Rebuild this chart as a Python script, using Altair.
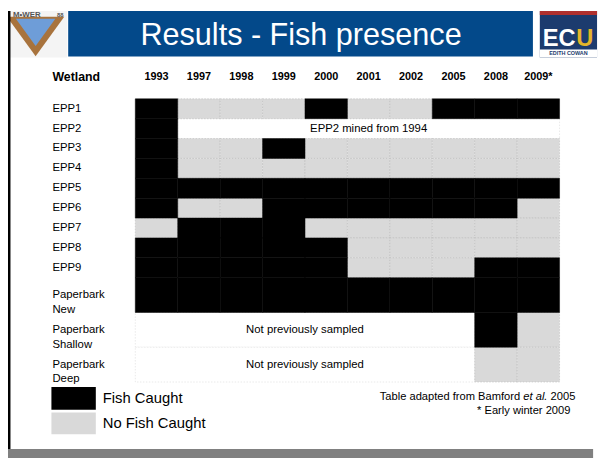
import altair as alt
import pandas as pd

FONT = "Liberation Sans"

# ---------------- data ----------------
years = ["1993", "1997", "1998", "1999", "2000", "2001", "2002", "2005", "2008", "2009*"]
wetlands = ["EPP1", "EPP2", "EPP3", "EPP4", "EPP5", "EPP6", "EPP7", "EPP8", "EPP9",
            "Paperbark\nNew", "Paperbark\nShallow", "Paperbark\nDeep"]
# F = fish caught, N = no fish caught, - = not sampled
presence = [
    "FNNNFNNFFF",
    "F---------",
    "FNNFNNNNNN",
    "FNNNNNNNNN",
    "FFFFFFFFFF",
    "FNNFFFFFFN",
    "NFFFNNNNNN",
    "FFFFFNNNNN",
    "FFFFFNNNFF",
    "FFFFFFFFFF",
    "--------FN",
    "--------NN",
]
gap_notes = ["", "EPP2 mined from 1994", "", "", "", "", "", "", "", "",
             "Not previously sampled", "Not previously sampled"]
status_labels = ["Fish Caught", "No Fish Caught"]
status_colors = ["#000000", "#d9d9d9"]
title_text = "Results - Fish presence"
row_header = "Wetland"
source_parts = ["Table adapted from Bamford", "et al.", " 2005"]
footnote = "* Early winter 2009"

# ---------------- tables ----------------
row_h = [1.75 if "\n" in w else 1.0 for w in wetlands]
y0s = []
acc = 0.0
for h in row_h:
    y0s.append(acc)
    acc += h
total = acc

rows = pd.DataFrame({"wetland": wetlands, "y0": y0s,
                     "y1": [a + h for a, h in zip(y0s, row_h)]})
rows["ymid"] = (rows["y0"] + rows["y1"]) / 2

cell_records = []
gap_records = []
for w, code, note, a, h in zip(wetlands, presence, gap_notes, y0s, row_h):
    for yr, c in zip(years, code):
        if c == "-":
            continue
        cell_records.append(dict(wetland=w, year=yr,
                                 status=status_labels[0] if c == "F" else status_labels[1],
                                 y0=a, y1=a + h))
    if "-" in code:
        f = code.index("-")
        l = code.rindex("-")
        gap_records.append(dict(wetland=w, note=note, first=years[f], last=years[l],
                                fi=f, li=l, y0=a, y1=a + h, ymid=a + h / 2))
cells = pd.DataFrame(cell_records)
gaps = pd.DataFrame(gap_records)
year_df = pd.DataFrame({"year": years})
one = pd.DataFrame({"k": [0]})

xs = alt.Scale(domain=years, paddingInner=0, paddingOuter=0)
ys = alt.Scale(domain=[0, total], reverse=True, nice=False, zero=False)
cs = alt.Scale(domain=status_labels, range=status_colors)

layers = []

# white "not sampled" blocks
layers.append(
    alt.Chart(gaps).mark_rect(fill="#ffffff", stroke="#dadada", strokeWidth=0.6,
                              strokeDash=[1.5, 1.5]).encode(
        x=alt.X("first:N", scale=xs, axis=None, bandPosition=0),
        x2=alt.X2("last:N", bandPosition=1),
        y=alt.Y("y0:Q", scale=ys, axis=None),
        y2="y1:Q",
    )
)

# grey cells
layers.append(
    alt.Chart(cells).transform_filter(alt.datum.status == status_labels[1]).mark_rect(
        stroke="#bdbdbd", strokeWidth=0.6, strokeDash=[1.5, 1.5]).encode(
        x=alt.X("year:N", scale=xs, axis=None),
        y=alt.Y("y0:Q", scale=ys, axis=None),
        y2="y1:Q",
        fill=alt.Fill("status:N", scale=cs, legend=None),
    )
)
# black cells
layers.append(
    alt.Chart(cells).transform_filter(alt.datum.status == status_labels[0]).mark_rect(
        stroke="#000000", strokeWidth=0.5).encode(
        x=alt.X("year:N", scale=xs, axis=None),
        y=alt.Y("y0:Q", scale=ys, axis=None),
        y2="y1:Q",
        fill=alt.Fill("status:N", scale=cs, legend=None),
    )
)

# notes in the white blocks
for rec in gap_records:
    mid = (rec["fi"] + rec["li"] + 1) / 2
    idx = int(mid)
    bp = mid - idx
    if idx >= len(years):
        idx, bp = len(years) - 1, 1.0
    layers.append(
        alt.Chart(pd.DataFrame({"year": [years[idx]], "ymid": [rec["ymid"]], "note": [rec["note"]]}))
        .mark_text(font=FONT, fontSize=11.5, color="#000000", baseline="middle")
        .encode(
            x=alt.X("year:N", scale=xs, axis=None, bandPosition=bp),
            y=alt.Y("ymid:Q", scale=ys, axis=None),
            text="note:N",
        )
    )

# year header
layers.append(
    alt.Chart(year_df).mark_text(font=FONT, fontSize=11, fontWeight="bold", color="#000000",
                                 baseline="middle").encode(
        x=alt.X("year:N", scale=xs, axis=None),
        y=alt.value(-22),
        text="year:N",
    )
)
# row labels
layers.append(
    alt.Chart(rows).mark_text(font=FONT, fontSize=11.5, align="left", baseline="middle",
                              lineBreak="\n", lineHeight=15, color="#000000").encode(
        x=alt.value(-84),
        y=alt.Y("ymid:Q", scale=ys, axis=None),
        text="wetland:N",
    )
)
layers.append(
    alt.Chart(one).mark_text(font=FONT, fontSize=12.5, fontWeight="bold", align="left",
                             baseline="middle", text=row_header, color="#000000").encode(
        x=alt.value(-84), y=alt.value(-22))
)

# ---------------- slide decoration ----------------
def box(x1, x2, y1, y2, color):
    return alt.Chart(one).mark_rect(color=color).encode(
        x=alt.value(x1), x2=alt.value(x2), y=alt.value(y1), y2=alt.value(y2))

def label(txt, x, y, size, color="#000000", align="center", weight="normal", style="normal",
          font=FONT, baseline="middle"):
    return alt.Chart(one).mark_text(text=txt, font=font, fontSize=size, color=color, align=align,
                                    fontWeight=weight, fontStyle=style, baseline=baseline).encode(
        x=alt.value(x), y=alt.value(y))

# header band
layers.append(box(-68, 403, -89, -43, "#03498a"))
layers.append(label(title_text, 168, -64, 31, color="#ffffff"))

# left logo (V shape)
layers.append(box(-132, -69, -89, -42, "#f4f4f4"))
layers.append(alt.Chart(one).mark_point(shape="M-1,-0.66L1,-0.66L0,0.72Z", size=3364, filled=True,
                                        opacity=1, color="#a8733d").encode(
    x=alt.value(-101), y=alt.value(-64)))
layers.append(alt.Chart(one).mark_point(shape="M-1,-0.66L1,-0.66L0,0.72Z", size=1600, filled=True,
                                        opacity=1, color="#6e9dd8").encode(
    x=alt.value(-101), y=alt.value(-68)))
layers.append(label("M\u2022WER", -110, -85, 8, color="#555555", weight="bold"))
layers.append(label("88", -76, -85, 6, color="#555555", weight="bold"))

# right logo (ECU)
layers.append(box(410, 468, -89, -42, "#1c3b6e"))
layers.append(box(410, 468, -89, -85, "#b0302e"))
layers.append(box(410, 468, -50, -42, "#ffffff"))
layers.append(label("EC", 413, -54, 24, color="#ffffff", align="left", weight="bold",
                    baseline="alphabetic"))
layers.append(label("U", 447, -54, 24, color="#e3b52a", align="left", weight="bold",
                    baseline="alphabetic"))
layers.append(label("EDITH COWAN", 439, -46, 5.5, color="#1c3b6e", weight="bold"))

# frame
layers.append(box(-129, -126.5, -89, 364, "#000000"))
layers.append(box(-129, 464, 355, 364, "#808080"))

# legend
for i, (lab, col) in enumerate(zip(status_labels, status_colors)):
    layers.append(box(-85, -40, 292 + i * 26, 315 + i * 25, col))
    layers.append(label(lab, -33, 303.5 + i * 25.5, 15, align="left"))

# source note
fs = 11.3
w_2005 = 2.502 * fs
w_etal = 2.168 * fs
w_sp = 0.278 * fs
right = 446
layers.append(label(source_parts[2], right, 302, fs, align="right"))
layers.append(label(source_parts[1], right - w_2005, 302, fs, align="right", style="italic"))
layers.append(label(source_parts[0], right - w_2005 - w_etal - w_sp, 302, fs, align="right"))
layers.append(label(footnote, 441, 316, fs, align="right"))

chart = alt.layer(*layers).properties(
    width=430, height=287,
    autosize=alt.AutoSizeParams(type="none"),
    padding={"left": 129, "top": 89, "right": 42, "bottom": 77},
    background="#ffffff",
).configure(font=FONT).configure_view(stroke="transparent")

chart.save("out.html", embed_options={"renderer": "svg", "actions": False})
